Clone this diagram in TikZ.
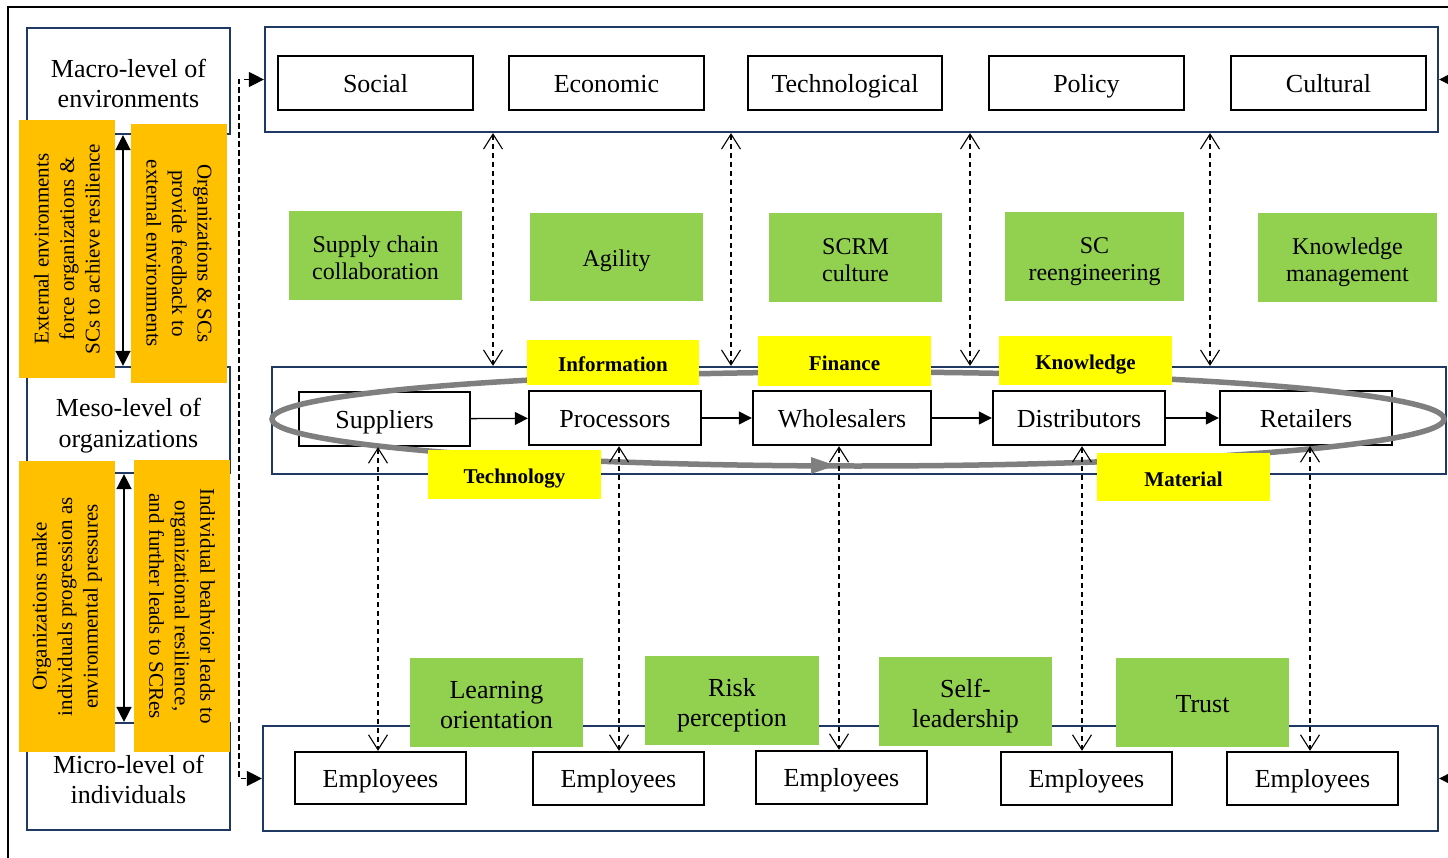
\documentclass[tikz,border=0pt]{standalone}
\usepackage{fontspec}
\setmainfont{Liberation Serif}
\usetikzlibrary{arrows.meta}
\definecolor{navy}{RGB}{32,56,100}
\definecolor{orng}{RGB}{255,192,0}
\definecolor{grn}{RGB}{146,208,80}
\definecolor{yel}{RGB}{255,255,0}
\definecolor{flowgray}{RGB}{127,127,127}
\newcommand\mkbox[7]{\node[#2, minimum width={#5-#3}, minimum height={#6-#4}] (#1) at ({(#3+#5)/2},{(#4+#6)/2}) {#7};}
\newcommand\lowtext[2]{\raisebox{-#1}[\height][\depth]{\begin{tabular}{@{}c@{}}#2\end{tabular}}}
\tikzset{
  levelbox/.style={draw=navy, line width=2.2pt, fill=white, inner sep=0pt, align=center, font=\fontsize{26}{30}\selectfont},
  bigbox/.style={draw=navy, line width=2.2pt, inner sep=0pt},
  factbox/.style={draw=black, line width=2.4pt, fill=white, inner sep=0pt, align=center, font=\fontsize{26}{30}\selectfont, text height=20pt, text depth=1.5pt},
  greenA/.style={fill=grn, inner sep=0pt, align=center, font=\fontsize{24}{27}\selectfont},
  greenB/.style={fill=grn, inner sep=0pt, align=center, font=\fontsize{26}{30}\selectfont},
  flowlabel/.style={fill=yel, inner sep=0pt, font=\bfseries\fontsize{21}{24}\selectfont, text height=19.5pt, text depth=1pt},
  orangebox/.style={fill=orng, inner sep=0pt, align=center, font=\fontsize{21}{25.5}\selectfont},
  chainarrow/.style={line width=1.3pt, -{Triangle[length=13pt,width=13pt]}},
  dblarrow/.style={line width=1.5pt, {Triangle[length=15pt,width=15pt]}-{Triangle[length=15pt,width=15pt]}},
  dashconn/.style={line width=1.1pt, dash pattern=on 5.5pt off 3.5pt, {Straight Barb[length=15pt,width=19pt,line width=1.1pt]}-{Straight Barb[length=15pt,width=19pt,line width=1.1pt]}},
  sideconn/.style={line width=1.2pt, dash pattern=on 5.5pt off 3.5pt, {Triangle[length=15pt,width=15pt]}-{Triangle[length=15pt,width=15pt]}},
  inarrow/.style={line width=1.2pt, -{Triangle[length=14pt,width=14pt]}},
  flowline/.style={draw=flowgray, line width=5.5pt},
}
\begin{document}
\begin{tikzpicture}[x=1pt,y=-1pt]
\useasboundingbox (0,0) rectangle (1448,858);
% outer frame
\draw[line width=2pt] (8,880) -- (8,7) -- (1470,7);
% left level boxes
\mkbox{macL}{levelbox}{27}{28}{230}{134}{\lowtext{6pt}{Macro-level of\\environments}}
\mkbox{mesL}{levelbox}{27}{367}{230}{473}{\lowtext{6pt}{Meso-level of\\organizations}}
\mkbox{micL}{levelbox}{27}{723}{230}{830}{\lowtext{6pt}{Micro-level of\\individuals}}
% big boxes
\mkbox{macB}{bigbox}{265}{27}{1438}{132}{}
\mkbox{mesB}{bigbox}{272}{367}{1446}{474}{}
\mkbox{micB}{bigbox}{263}{726}{1438}{831}{}
% macro factors
\mkbox{soc}{factbox}{278}{56}{473}{110}{Social}
\mkbox{eco}{factbox}{509}{56}{704}{110}{Economic}
\mkbox{tec}{factbox}{748}{56}{942}{110}{Technological}
\mkbox{pol}{factbox}{989}{56}{1184}{110}{Policy}
\mkbox{cul}{factbox}{1231}{56}{1426}{110}{Cultural}
% supply chain members
\mkbox{sup}{factbox}{299}{392}{470}{446}{Suppliers}
\mkbox{pro}{factbox}{529}{391}{701}{445}{Processors}
\mkbox{who}{factbox}{753}{391}{931}{445}{Wholesalers}
\mkbox{dis}{factbox}{993}{391}{1165}{445}{Distributors}
\mkbox{ret}{factbox}{1220}{391}{1392}{445}{Retailers}
\draw[chainarrow] (sup) -- (pro);
\draw[chainarrow] (pro) -- (who);
\draw[chainarrow] (who) -- (dis);
\draw[chainarrow] (dis) -- (ret);
% employees
\mkbox{emA}{factbox}{295}{752}{466}{804}{Employees}
\mkbox{emB}{factbox}{533}{752}{704}{805}{Employees}
\mkbox{emC}{factbox}{756}{751}{927}{804}{Employees}
\mkbox{emD}{factbox}{1001}{752}{1172}{805}{Employees}
\mkbox{emE}{factbox}{1227}{752}{1398}{805}{Employees}
% flow loop
\draw[flowline] (858,419) ellipse [x radius=586pt, y radius=47pt];
\draw[flowline, -{Triangle[length=26pt,width=15pt]}] (780,465.5) -- (837,465.5);
% flow labels
\mkbox{inf}{flowlabel}{527}{340}{699}{385}{Information}
\mkbox{fin}{flowlabel}{758}{336}{931}{386}{Finance}
\mkbox{kno}{flowlabel}{999}{336}{1172}{385}{Knowledge}
\mkbox{tch}{flowlabel}{428}{450}{601}{499}{Technology}
\mkbox{mat}{flowlabel}{1097}{453}{1270}{501}{Material}
% green boxes
\mkbox{gA}{greenA}{289}{211}{462}{300}{\lowtext{5pt}{Supply chain\\collaboration}}
\mkbox{gB}{greenA}{530}{213}{703}{301}{\lowtext{4pt}{Agility}}
\mkbox{gC}{greenA}{769}{213}{942}{302}{\lowtext{5pt}{SCRM\\culture}}
\mkbox{gD}{greenA}{1005}{212}{1184}{301}{\lowtext{5pt}{SC\\reengineering}}
\mkbox{gE}{greenA}{1258}{213}{1437}{302}{\lowtext{5pt}{Knowledge\\management}}
\mkbox{gF}{greenB}{410}{658}{583}{747}{\lowtext{5pt}{Learning\\orientation}}
\mkbox{gG}{greenB}{645}{656}{819}{745}{\lowtext{5pt}{Risk\\perception}}
\mkbox{gH}{greenB}{879}{657}{1052}{746}{\lowtext{5pt}{Self-\\leadership}}
\mkbox{gI}{greenB}{1116}{658}{1289}{747}{\lowtext{4pt}{Trust}}
% orange boxes
\node[orangebox, rotate=90, minimum width={378-120}, minimum height={115-19}] (orA) at (67,249) {External environments\\force organizations \&\\SCs to achieve resilience};
\node[orangebox, rotate=-90, minimum width={383-124}, minimum height={227-131}] (orB) at (179,253.5) {Organizations \& SCs\\provide feedback to\\external environments};
\node[orangebox, rotate=90, minimum width={752-461}, minimum height={115-19}] (orC) at (67,606.5) {Organizations make\\individuals progression as\\environmental pressures};
\node[orangebox, rotate=-90, minimum width={752-460}, minimum height={230-134}] (orD) at (182,606) {Individual beahvior leads to\\organizational resilience,\\and further leads to SCRes};
% left double arrows
\coordinate (xA) at (123,0);
\coordinate (xB) at (124,0);
\draw[dblarrow] (macL.south -| xA) -- (mesL.north -| xA);
\draw[dblarrow] (mesL.south -| xB) -- (micL.north -| xB);
% side connector
\draw[sideconn] (macB.west) -- ++(-25,0) |- (micB.west);
% right incoming arrows
\coordinate (rinA) at (1475,79.5);
\coordinate (rinB) at (1475,778.5);
\draw[inarrow] (rinA) -- (macB.east);
\draw[inarrow] (rinB) -- (micB.east);
% macro-meso dashed connectors
\coordinate (tA) at (493,0);
\coordinate (tB) at (731,0);
\coordinate (tC) at (970,0);
\coordinate (tD) at (1210,0);
\foreach \c in {tA,tB,tC,tD}{\draw[dashconn] (macB.south -| \c) -- (mesB.north -| \c);}
% meso-micro dashed connectors
\coordinate (bA) at (378,0);
\coordinate (bB) at (619,0);
\coordinate (bC) at (839,0);
\coordinate (bD) at (1082,0);
\coordinate (bE) at (1310,0);
\draw[dashconn] (sup.south -| bA) -- (emA.north -| bA);
\draw[dashconn] (pro.south -| bB) -- (emB.north -| bB);
\draw[dashconn] (who.south -| bC) -- (emC.north -| bC);
\draw[dashconn] (dis.south -| bD) -- (emD.north -| bD);
\draw[dashconn] (ret.south -| bE) -- (emE.north -| bE);
\end{tikzpicture}
\end{document}
